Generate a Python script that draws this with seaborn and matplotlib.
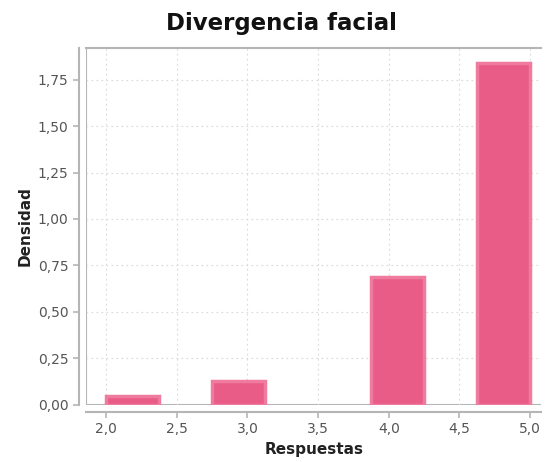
import matplotlib
matplotlib.use("Agg")
import matplotlib.pyplot as plt
from matplotlib.ticker import FuncFormatter, MultipleLocator
import seaborn as sns

# bin edges of the histogram (8 bins between 2 and 5)
bin_edges = [2.0, 2.375, 2.75, 3.125, 3.5, 3.875, 4.25, 4.625, 5.0]
# centres of the non-empty bins and their density
bin_centres = [2.1875, 2.9375, 4.0625, 4.8125]
densidad = [0.045, 0.13, 0.685, 1.84]

sns.set_style("white")
plt.rcParams["font.family"] = ["DejaVu Sans"]

fig = plt.figure(figsize=(5.46, 4.62), dpi=100)
ax = fig.add_axes([0.1575, 0.124, 0.834, 0.772])

sns.histplot(x=bin_centres, weights=densidad, bins=bin_edges, stat="count",
             color="#E95C87", edgecolor="#EF7C9F", linewidth=2.5, alpha=1, ax=ax)
# empty bins should not show an outline
for p in list(ax.patches):
    if p.get_height() == 0:
        p.remove()

ax.set_xlim(1.857, 5.08)
ax.set_ylim(0, 1.92)
ax.xaxis.set_major_locator(MultipleLocator(0.5))
ax.yaxis.set_major_locator(MultipleLocator(0.25))
ax.xaxis.set_major_formatter(FuncFormatter(lambda v, p: f"{v:.1f}".replace(".", ",")))
ax.yaxis.set_major_formatter(FuncFormatter(lambda v, p: f"{v:.2f}".replace(".", ",")))

ax.grid(True, linestyle=(0, (1.5, 3)), color="#d9d9d9", linewidth=0.8)
ax.set_axisbelow(True)

# offset axis lines plus inner frame
for side in ["left", "bottom"]:
    ax.spines[side].set_position(("outward", 5))
    ax.spines[side].set_color("#b5b5b5")
    ax.spines[side].set_linewidth(1.5)
ax.spines["top"].set_color("#b5b5b5")
ax.spines["top"].set_linewidth(1.5)
ax.spines["right"].set_visible(False)
ax.axhline(0, color="#b5b5b5", linewidth=1.5, zorder=0.5)
ax.axvline(1.857, color="#b5b5b5", linewidth=1.5, zorder=0.5)

ax.tick_params(axis="both", colors="#b5b5b5", labelcolor="#555555",
               labelsize=10, length=4, width=1.2, direction="out")
ax.tick_params(axis="both", which="both", bottom=True, left=True)

ax.set_xlabel("Respuestas", fontsize=11, fontweight="bold", color="#222222")
ax.set_ylabel("Densidad", fontsize=11, fontweight="bold", color="#222222")
fig.suptitle("Divergencia facial", x=0.515, y=0.975, fontsize=16.5, fontweight="bold",
             color="#111111")

fig.savefig("out.png", dpi=100)
